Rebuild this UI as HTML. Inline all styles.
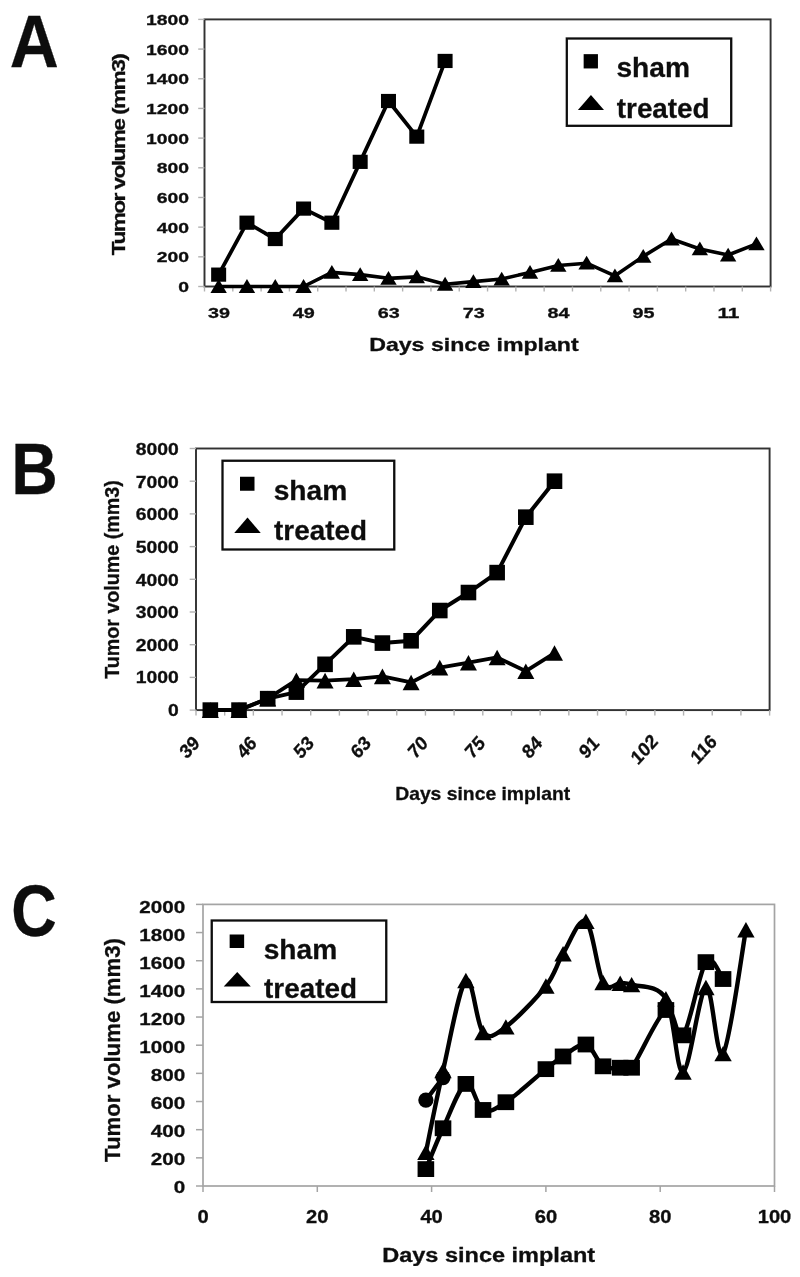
<!DOCTYPE html>
<html><head><meta charset="utf-8"><title>Figure</title>
<style>
html,body{margin:0;padding:0;background:#fff;}
body{width:800px;height:1277px;overflow:hidden;}
svg{display:block;}
text{font-family:'Liberation Sans', sans-serif;font-weight:700;fill:#111;stroke:#111;stroke-width:0.3px;}
</style></head><body>
<svg width="800" height="1277" viewBox="0 0 800 1277">
<rect x="0" y="0" width="800" height="1277" fill="#fff"/>
<g filter="url(#soft)">
<text x="9.80" y="66.50" font-size="74" text-anchor="start" textLength="49" lengthAdjust="spacingAndGlyphs">A</text>
<rect x="204.50" y="19.40" width="566.10" height="267.10" fill="none" stroke="#303030" stroke-width="1.9"/>
<line x1="198.20" y1="286.50" x2="204.50" y2="286.50" stroke="#b2b2b2" stroke-width="1.4"/>
<text x="189.00" y="292.10" font-size="14.1" text-anchor="end" textLength="10.75" lengthAdjust="spacingAndGlyphs">0</text>
<line x1="198.20" y1="256.82" x2="204.50" y2="256.82" stroke="#b2b2b2" stroke-width="1.4"/>
<text x="189.00" y="262.42" font-size="14.1" text-anchor="end" textLength="32.25" lengthAdjust="spacingAndGlyphs">200</text>
<line x1="198.20" y1="227.14" x2="204.50" y2="227.14" stroke="#b2b2b2" stroke-width="1.4"/>
<text x="189.00" y="232.74" font-size="14.1" text-anchor="end" textLength="32.25" lengthAdjust="spacingAndGlyphs">400</text>
<line x1="198.20" y1="197.47" x2="204.50" y2="197.47" stroke="#b2b2b2" stroke-width="1.4"/>
<text x="189.00" y="203.07" font-size="14.1" text-anchor="end" textLength="32.25" lengthAdjust="spacingAndGlyphs">600</text>
<line x1="198.20" y1="167.79" x2="204.50" y2="167.79" stroke="#b2b2b2" stroke-width="1.4"/>
<text x="189.00" y="173.39" font-size="14.1" text-anchor="end" textLength="32.25" lengthAdjust="spacingAndGlyphs">800</text>
<line x1="198.20" y1="138.11" x2="204.50" y2="138.11" stroke="#b2b2b2" stroke-width="1.4"/>
<text x="189.00" y="143.71" font-size="14.1" text-anchor="end" textLength="43.0" lengthAdjust="spacingAndGlyphs">1000</text>
<line x1="198.20" y1="108.43" x2="204.50" y2="108.43" stroke="#b2b2b2" stroke-width="1.4"/>
<text x="189.00" y="114.03" font-size="14.1" text-anchor="end" textLength="43.0" lengthAdjust="spacingAndGlyphs">1200</text>
<line x1="198.20" y1="78.76" x2="204.50" y2="78.76" stroke="#b2b2b2" stroke-width="1.4"/>
<text x="189.00" y="84.36" font-size="14.1" text-anchor="end" textLength="43.0" lengthAdjust="spacingAndGlyphs">1400</text>
<line x1="198.20" y1="49.08" x2="204.50" y2="49.08" stroke="#b2b2b2" stroke-width="1.4"/>
<text x="189.00" y="54.68" font-size="14.1" text-anchor="end" textLength="43.0" lengthAdjust="spacingAndGlyphs">1600</text>
<line x1="198.20" y1="19.40" x2="204.50" y2="19.40" stroke="#b2b2b2" stroke-width="1.4"/>
<text x="189.00" y="25.00" font-size="14.1" text-anchor="end" textLength="43.0" lengthAdjust="spacingAndGlyphs">1800</text>
<line x1="204.50" y1="286.50" x2="204.50" y2="291.50" stroke="#b2b2b2" stroke-width="1.4"/>
<line x1="232.81" y1="286.50" x2="232.81" y2="291.50" stroke="#b2b2b2" stroke-width="1.4"/>
<line x1="261.11" y1="286.50" x2="261.11" y2="291.50" stroke="#b2b2b2" stroke-width="1.4"/>
<line x1="289.41" y1="286.50" x2="289.41" y2="291.50" stroke="#b2b2b2" stroke-width="1.4"/>
<line x1="317.72" y1="286.50" x2="317.72" y2="291.50" stroke="#b2b2b2" stroke-width="1.4"/>
<line x1="346.02" y1="286.50" x2="346.02" y2="291.50" stroke="#b2b2b2" stroke-width="1.4"/>
<line x1="374.33" y1="286.50" x2="374.33" y2="291.50" stroke="#b2b2b2" stroke-width="1.4"/>
<line x1="402.63" y1="286.50" x2="402.63" y2="291.50" stroke="#b2b2b2" stroke-width="1.4"/>
<line x1="430.94" y1="286.50" x2="430.94" y2="291.50" stroke="#b2b2b2" stroke-width="1.4"/>
<line x1="459.25" y1="286.50" x2="459.25" y2="291.50" stroke="#b2b2b2" stroke-width="1.4"/>
<line x1="487.55" y1="286.50" x2="487.55" y2="291.50" stroke="#b2b2b2" stroke-width="1.4"/>
<line x1="515.86" y1="286.50" x2="515.86" y2="291.50" stroke="#b2b2b2" stroke-width="1.4"/>
<line x1="544.16" y1="286.50" x2="544.16" y2="291.50" stroke="#b2b2b2" stroke-width="1.4"/>
<line x1="572.46" y1="286.50" x2="572.46" y2="291.50" stroke="#b2b2b2" stroke-width="1.4"/>
<line x1="600.77" y1="286.50" x2="600.77" y2="291.50" stroke="#b2b2b2" stroke-width="1.4"/>
<line x1="629.08" y1="286.50" x2="629.08" y2="291.50" stroke="#b2b2b2" stroke-width="1.4"/>
<line x1="657.38" y1="286.50" x2="657.38" y2="291.50" stroke="#b2b2b2" stroke-width="1.4"/>
<line x1="685.68" y1="286.50" x2="685.68" y2="291.50" stroke="#b2b2b2" stroke-width="1.4"/>
<line x1="713.99" y1="286.50" x2="713.99" y2="291.50" stroke="#b2b2b2" stroke-width="1.4"/>
<line x1="742.29" y1="286.50" x2="742.29" y2="291.50" stroke="#b2b2b2" stroke-width="1.4"/>
<line x1="770.60" y1="286.50" x2="770.60" y2="291.50" stroke="#b2b2b2" stroke-width="1.4"/>
<text x="218.95" y="317.50" font-size="14.8" text-anchor="middle" textLength="22" lengthAdjust="spacingAndGlyphs">39</text>
<text x="303.87" y="317.50" font-size="14.8" text-anchor="middle" textLength="22" lengthAdjust="spacingAndGlyphs">49</text>
<text x="388.78" y="317.50" font-size="14.8" text-anchor="middle" textLength="22" lengthAdjust="spacingAndGlyphs">63</text>
<text x="473.70" y="317.50" font-size="14.8" text-anchor="middle" textLength="22" lengthAdjust="spacingAndGlyphs">73</text>
<text x="558.61" y="317.50" font-size="14.8" text-anchor="middle" textLength="22" lengthAdjust="spacingAndGlyphs">84</text>
<text x="643.53" y="317.50" font-size="14.8" text-anchor="middle" textLength="22" lengthAdjust="spacingAndGlyphs">95</text>
<text x="728.44" y="317.50" font-size="14.8" text-anchor="middle" textLength="22" lengthAdjust="spacingAndGlyphs">11</text>
<text x="369.20" y="350.60" font-size="18.4" text-anchor="start" textLength="209.5" lengthAdjust="spacingAndGlyphs">Days since implant</text>
<text transform="translate(124.80,255.20) rotate(-90) scale(1.25,1)" font-size="18.2" letter-spacing="-1.3" stroke="none">Tumor volume (mm3)</text>
<polyline points="218.65,286.50 246.96,286.50 275.26,286.50 303.57,286.50 331.87,272.40 360.18,274.63 388.48,278.34 416.79,276.85 445.09,284.27 473.40,281.60 501.70,279.08 530.01,272.40 558.31,265.43 586.62,263.20 614.92,275.82 643.23,256.38 671.53,239.02 699.84,248.96 728.14,255.04 756.45,243.91" fill="none" stroke="#000" stroke-width="3.6" stroke-linejoin="round" stroke-linecap="round"/>
<path d="M210.45,292.90 L226.85,292.90 L218.65,279.10 Z" fill="#000"/>
<path d="M238.76,292.90 L255.16,292.90 L246.96,279.10 Z" fill="#000"/>
<path d="M267.06,292.90 L283.46,292.90 L275.26,279.10 Z" fill="#000"/>
<path d="M295.37,292.90 L311.77,292.90 L303.57,279.10 Z" fill="#000"/>
<path d="M323.67,278.80 L340.07,278.80 L331.87,265.00 Z" fill="#000"/>
<path d="M351.98,281.03 L368.38,281.03 L360.18,267.23 Z" fill="#000"/>
<path d="M380.28,284.74 L396.68,284.74 L388.48,270.94 Z" fill="#000"/>
<path d="M408.59,283.25 L424.99,283.25 L416.79,269.45 Z" fill="#000"/>
<path d="M436.89,290.67 L453.29,290.67 L445.09,276.87 Z" fill="#000"/>
<path d="M465.20,288.00 L481.60,288.00 L473.40,274.20 Z" fill="#000"/>
<path d="M493.50,285.48 L509.90,285.48 L501.70,271.68 Z" fill="#000"/>
<path d="M521.81,278.80 L538.21,278.80 L530.01,265.00 Z" fill="#000"/>
<path d="M550.11,271.83 L566.51,271.83 L558.31,258.03 Z" fill="#000"/>
<path d="M578.42,269.60 L594.82,269.60 L586.62,255.80 Z" fill="#000"/>
<path d="M606.72,282.22 L623.12,282.22 L614.92,268.42 Z" fill="#000"/>
<path d="M635.03,262.78 L651.43,262.78 L643.23,248.98 Z" fill="#000"/>
<path d="M663.33,245.42 L679.73,245.42 L671.53,231.62 Z" fill="#000"/>
<path d="M691.64,255.36 L708.04,255.36 L699.84,241.56 Z" fill="#000"/>
<path d="M719.94,261.44 L736.34,261.44 L728.14,247.64 Z" fill="#000"/>
<path d="M748.25,250.31 L764.65,250.31 L756.45,236.51 Z" fill="#000"/>
<polyline points="218.65,274.63 246.96,222.69 275.26,239.02 303.57,208.60 331.87,222.69 360.18,161.85 388.48,101.01 416.79,136.63 445.09,60.95" fill="none" stroke="#000" stroke-width="3.8" stroke-linejoin="round" stroke-linecap="round"/>
<rect x="211.15" y="267.53" width="15" height="14.2" fill="#000"/>
<rect x="239.46" y="215.59" width="15" height="14.2" fill="#000"/>
<rect x="267.76" y="231.92" width="15" height="14.2" fill="#000"/>
<rect x="296.07" y="201.50" width="15" height="14.2" fill="#000"/>
<rect x="324.37" y="215.59" width="15" height="14.2" fill="#000"/>
<rect x="352.68" y="154.75" width="15" height="14.2" fill="#000"/>
<rect x="380.98" y="93.91" width="15" height="14.2" fill="#000"/>
<rect x="409.29" y="129.53" width="15" height="14.2" fill="#000"/>
<rect x="437.59" y="53.85" width="15" height="14.2" fill="#000"/>
<rect x="566.80" y="38.50" width="164.40" height="87.30" fill="#fff" stroke="#111" stroke-width="2.3"/>
<rect x="583.65" y="54.15" width="14.3" height="14.3" fill="#000"/>
<path d="M577.90,109.90 L604.00,109.90 L590.95,94.90 Z" fill="#000"/>
<text x="616.40" y="76.60" font-size="28" text-anchor="start" textLength="73.6" lengthAdjust="spacingAndGlyphs">sham</text>
<text x="616.80" y="118.00" font-size="28" text-anchor="start" textLength="92.8" lengthAdjust="spacingAndGlyphs">treated</text>
<text x="11.20" y="493.60" font-size="73" text-anchor="start" textLength="46.5" lengthAdjust="spacingAndGlyphs">B</text>
<rect x="196.00" y="448.50" width="573.60" height="261.60" fill="none" stroke="#303030" stroke-width="1.9"/>
<line x1="189.70" y1="710.10" x2="196.00" y2="710.10" stroke="#b2b2b2" stroke-width="1.4"/>
<text x="178.80" y="715.90" font-size="16.2" text-anchor="end" textLength="10.75" lengthAdjust="spacingAndGlyphs">0</text>
<line x1="189.70" y1="677.40" x2="196.00" y2="677.40" stroke="#b2b2b2" stroke-width="1.4"/>
<text x="178.80" y="683.30" font-size="16.2" text-anchor="end" textLength="43.0" lengthAdjust="spacingAndGlyphs">1000</text>
<line x1="189.70" y1="644.70" x2="196.00" y2="644.70" stroke="#b2b2b2" stroke-width="1.4"/>
<text x="178.80" y="650.70" font-size="16.2" text-anchor="end" textLength="43.0" lengthAdjust="spacingAndGlyphs">2000</text>
<line x1="189.70" y1="612.00" x2="196.00" y2="612.00" stroke="#b2b2b2" stroke-width="1.4"/>
<text x="178.80" y="618.10" font-size="16.2" text-anchor="end" textLength="43.0" lengthAdjust="spacingAndGlyphs">3000</text>
<line x1="189.70" y1="579.30" x2="196.00" y2="579.30" stroke="#b2b2b2" stroke-width="1.4"/>
<text x="178.80" y="585.50" font-size="16.2" text-anchor="end" textLength="43.0" lengthAdjust="spacingAndGlyphs">4000</text>
<line x1="189.70" y1="546.60" x2="196.00" y2="546.60" stroke="#b2b2b2" stroke-width="1.4"/>
<text x="178.80" y="552.90" font-size="16.2" text-anchor="end" textLength="43.0" lengthAdjust="spacingAndGlyphs">5000</text>
<line x1="189.70" y1="513.90" x2="196.00" y2="513.90" stroke="#b2b2b2" stroke-width="1.4"/>
<text x="178.80" y="520.30" font-size="16.2" text-anchor="end" textLength="43.0" lengthAdjust="spacingAndGlyphs">6000</text>
<line x1="189.70" y1="481.20" x2="196.00" y2="481.20" stroke="#b2b2b2" stroke-width="1.4"/>
<text x="178.80" y="487.70" font-size="16.2" text-anchor="end" textLength="43.0" lengthAdjust="spacingAndGlyphs">7000</text>
<line x1="189.70" y1="448.50" x2="196.00" y2="448.50" stroke="#b2b2b2" stroke-width="1.4"/>
<text x="178.80" y="455.10" font-size="16.2" text-anchor="end" textLength="43.0" lengthAdjust="spacingAndGlyphs">8000</text>
<line x1="196.00" y1="710.10" x2="196.00" y2="715.60" stroke="#b2b2b2" stroke-width="1.4"/>
<line x1="224.68" y1="710.10" x2="224.68" y2="715.60" stroke="#b2b2b2" stroke-width="1.4"/>
<line x1="253.36" y1="710.10" x2="253.36" y2="715.60" stroke="#b2b2b2" stroke-width="1.4"/>
<line x1="282.04" y1="710.10" x2="282.04" y2="715.60" stroke="#b2b2b2" stroke-width="1.4"/>
<line x1="310.72" y1="710.10" x2="310.72" y2="715.60" stroke="#b2b2b2" stroke-width="1.4"/>
<line x1="339.40" y1="710.10" x2="339.40" y2="715.60" stroke="#b2b2b2" stroke-width="1.4"/>
<line x1="368.08" y1="710.10" x2="368.08" y2="715.60" stroke="#b2b2b2" stroke-width="1.4"/>
<line x1="396.76" y1="710.10" x2="396.76" y2="715.60" stroke="#b2b2b2" stroke-width="1.4"/>
<line x1="425.44" y1="710.10" x2="425.44" y2="715.60" stroke="#b2b2b2" stroke-width="1.4"/>
<line x1="454.12" y1="710.10" x2="454.12" y2="715.60" stroke="#b2b2b2" stroke-width="1.4"/>
<line x1="482.80" y1="710.10" x2="482.80" y2="715.60" stroke="#b2b2b2" stroke-width="1.4"/>
<line x1="511.48" y1="710.10" x2="511.48" y2="715.60" stroke="#b2b2b2" stroke-width="1.4"/>
<line x1="540.16" y1="710.10" x2="540.16" y2="715.60" stroke="#b2b2b2" stroke-width="1.4"/>
<line x1="568.84" y1="710.10" x2="568.84" y2="715.60" stroke="#b2b2b2" stroke-width="1.4"/>
<line x1="597.52" y1="710.10" x2="597.52" y2="715.60" stroke="#b2b2b2" stroke-width="1.4"/>
<line x1="626.20" y1="710.10" x2="626.20" y2="715.60" stroke="#b2b2b2" stroke-width="1.4"/>
<line x1="654.88" y1="710.10" x2="654.88" y2="715.60" stroke="#b2b2b2" stroke-width="1.4"/>
<line x1="683.56" y1="710.10" x2="683.56" y2="715.60" stroke="#b2b2b2" stroke-width="1.4"/>
<line x1="712.24" y1="710.10" x2="712.24" y2="715.60" stroke="#b2b2b2" stroke-width="1.4"/>
<line x1="740.92" y1="710.10" x2="740.92" y2="715.60" stroke="#b2b2b2" stroke-width="1.4"/>
<line x1="769.60" y1="710.10" x2="769.60" y2="715.60" stroke="#b2b2b2" stroke-width="1.4"/>
<text transform="translate(189.30,746.90) scale(1,1.12) rotate(-45)" font-size="17.6" text-anchor="middle" dy="0.36em" stroke="#111" stroke-width="0.5">39</text>
<text transform="translate(246.37,746.90) scale(1,1.12) rotate(-45)" font-size="17.6" text-anchor="middle" dy="0.36em" stroke="#111" stroke-width="0.5">46</text>
<text transform="translate(303.44,746.90) scale(1,1.12) rotate(-45)" font-size="17.6" text-anchor="middle" dy="0.36em" stroke="#111" stroke-width="0.5">53</text>
<text transform="translate(360.51,746.90) scale(1,1.12) rotate(-45)" font-size="17.6" text-anchor="middle" dy="0.36em" stroke="#111" stroke-width="0.5">63</text>
<text transform="translate(417.58,746.90) scale(1,1.12) rotate(-45)" font-size="17.6" text-anchor="middle" dy="0.36em" stroke="#111" stroke-width="0.5">70</text>
<text transform="translate(474.65,746.90) scale(1,1.12) rotate(-45)" font-size="17.6" text-anchor="middle" dy="0.36em" stroke="#111" stroke-width="0.5">75</text>
<text transform="translate(531.72,746.90) scale(1,1.12) rotate(-45)" font-size="17.6" text-anchor="middle" dy="0.36em" stroke="#111" stroke-width="0.5">84</text>
<text transform="translate(588.79,746.90) scale(1,1.12) rotate(-45)" font-size="17.6" text-anchor="middle" dy="0.36em" stroke="#111" stroke-width="0.5">91</text>
<text transform="translate(644.00,749.00) scale(1,1.12) rotate(-45)" font-size="17.6" text-anchor="middle" dy="0.36em" stroke="#111" stroke-width="0.5">102</text>
<text transform="translate(703.40,749.00) scale(1,1.12) rotate(-45)" font-size="17.6" text-anchor="middle" dy="0.36em" stroke="#111" stroke-width="0.5">116</text>
<text x="395.20" y="799.50" font-size="17.9" text-anchor="start" textLength="175" lengthAdjust="spacingAndGlyphs">Days since implant</text>
<text transform="translate(118.80,678.80) rotate(-90)" font-size="19.4" textLength="198.5" lengthAdjust="spacingAndGlyphs">Tumor volume (mm3)</text>
<polyline points="210.34,710.10 239.02,710.10 267.70,698.65 296.38,680.18 325.06,680.67 353.74,679.20 382.42,676.42 411.10,682.47 439.78,667.59 468.46,662.69 497.14,657.45 525.82,671.19 554.50,653.04" fill="none" stroke="#000" stroke-width="3.8" stroke-linejoin="round" stroke-linecap="round"/>
<path d="M201.84,717.90 L218.84,717.90 L210.34,702.30 Z" fill="#000"/>
<path d="M230.52,717.90 L247.52,717.90 L239.02,702.30 Z" fill="#000"/>
<path d="M259.20,706.45 L276.20,706.45 L267.70,690.86 Z" fill="#000"/>
<path d="M287.88,687.98 L304.88,687.98 L296.38,672.38 Z" fill="#000"/>
<path d="M316.56,688.47 L333.56,688.47 L325.06,672.87 Z" fill="#000"/>
<path d="M345.24,687.00 L362.24,687.00 L353.74,671.40 Z" fill="#000"/>
<path d="M373.92,684.22 L390.92,684.22 L382.42,668.62 Z" fill="#000"/>
<path d="M402.60,690.27 L419.60,690.27 L411.10,674.67 Z" fill="#000"/>
<path d="M431.28,675.39 L448.28,675.39 L439.78,659.79 Z" fill="#000"/>
<path d="M459.96,670.49 L476.96,670.49 L468.46,654.89 Z" fill="#000"/>
<path d="M488.64,665.25 L505.64,665.25 L497.14,649.65 Z" fill="#000"/>
<path d="M517.32,678.99 L534.32,678.99 L525.82,663.39 Z" fill="#000"/>
<path d="M546.00,660.84 L563.00,660.84 L554.50,645.24 Z" fill="#000"/>
<polyline points="210.34,710.10 239.02,710.10 267.70,698.65 296.38,692.12 325.06,664.32 353.74,636.85 382.42,643.07 411.10,640.78 439.78,610.53 468.46,592.54 497.14,572.60 525.82,517.17 554.50,481.20" fill="none" stroke="#000" stroke-width="4.0" stroke-linejoin="round" stroke-linecap="round"/>
<rect x="202.54" y="702.30" width="15.6" height="15.6" fill="#000"/>
<rect x="231.22" y="702.30" width="15.6" height="15.6" fill="#000"/>
<rect x="259.90" y="690.86" width="15.6" height="15.6" fill="#000"/>
<rect x="288.58" y="684.32" width="15.6" height="15.6" fill="#000"/>
<rect x="317.26" y="656.52" width="15.6" height="15.6" fill="#000"/>
<rect x="345.94" y="629.05" width="15.6" height="15.6" fill="#000"/>
<rect x="374.62" y="635.27" width="15.6" height="15.6" fill="#000"/>
<rect x="403.30" y="632.98" width="15.6" height="15.6" fill="#000"/>
<rect x="431.98" y="602.73" width="15.6" height="15.6" fill="#000"/>
<rect x="460.66" y="584.74" width="15.6" height="15.6" fill="#000"/>
<rect x="489.34" y="564.80" width="15.6" height="15.6" fill="#000"/>
<rect x="518.02" y="509.37" width="15.6" height="15.6" fill="#000"/>
<rect x="546.70" y="473.40" width="15.6" height="15.6" fill="#000"/>
<rect x="222.50" y="460.75" width="171.75" height="88.75" fill="#fff" stroke="#111" stroke-width="2.3"/>
<rect x="240.00" y="476.75" width="14.5" height="14" fill="#000"/>
<path d="M234.25,533.00 L260.75,533.00 L247.50,517.50 Z" fill="#000"/>
<text x="273.70" y="499.50" font-size="28.3" text-anchor="start" textLength="73.6" lengthAdjust="spacingAndGlyphs">sham</text>
<text x="274.10" y="540.00" font-size="28.3" text-anchor="start" textLength="92.8" lengthAdjust="spacingAndGlyphs">treated</text>
<text x="11.20" y="935.80" font-size="73" text-anchor="start" textLength="45.5" lengthAdjust="spacingAndGlyphs">C</text>
<rect x="203.00" y="904.40" width="571.50" height="281.60" fill="none" stroke="#a4a4a4" stroke-width="1.7"/>
<line x1="196.00" y1="1186.00" x2="203.00" y2="1186.00" stroke="#a4a4a4" stroke-width="1.5"/>
<text x="185.20" y="1192.90" font-size="16.8" text-anchor="end" textLength="11.5" lengthAdjust="spacingAndGlyphs">0</text>
<line x1="196.00" y1="1157.84" x2="203.00" y2="1157.84" stroke="#a4a4a4" stroke-width="1.5"/>
<text x="185.20" y="1164.86" font-size="16.8" text-anchor="end" textLength="34.5" lengthAdjust="spacingAndGlyphs">200</text>
<line x1="196.00" y1="1129.68" x2="203.00" y2="1129.68" stroke="#a4a4a4" stroke-width="1.5"/>
<text x="185.20" y="1136.82" font-size="16.8" text-anchor="end" textLength="34.5" lengthAdjust="spacingAndGlyphs">400</text>
<line x1="196.00" y1="1101.52" x2="203.00" y2="1101.52" stroke="#a4a4a4" stroke-width="1.5"/>
<text x="185.20" y="1108.78" font-size="16.8" text-anchor="end" textLength="34.5" lengthAdjust="spacingAndGlyphs">600</text>
<line x1="196.00" y1="1073.36" x2="203.00" y2="1073.36" stroke="#a4a4a4" stroke-width="1.5"/>
<text x="185.20" y="1080.74" font-size="16.8" text-anchor="end" textLength="34.5" lengthAdjust="spacingAndGlyphs">800</text>
<line x1="196.00" y1="1045.20" x2="203.00" y2="1045.20" stroke="#a4a4a4" stroke-width="1.5"/>
<text x="185.20" y="1052.70" font-size="16.8" text-anchor="end" textLength="46.0" lengthAdjust="spacingAndGlyphs">1000</text>
<line x1="196.00" y1="1017.04" x2="203.00" y2="1017.04" stroke="#a4a4a4" stroke-width="1.5"/>
<text x="185.20" y="1024.66" font-size="16.8" text-anchor="end" textLength="46.0" lengthAdjust="spacingAndGlyphs">1200</text>
<line x1="196.00" y1="988.88" x2="203.00" y2="988.88" stroke="#a4a4a4" stroke-width="1.5"/>
<text x="185.20" y="996.62" font-size="16.8" text-anchor="end" textLength="46.0" lengthAdjust="spacingAndGlyphs">1400</text>
<line x1="196.00" y1="960.72" x2="203.00" y2="960.72" stroke="#a4a4a4" stroke-width="1.5"/>
<text x="185.20" y="968.58" font-size="16.8" text-anchor="end" textLength="46.0" lengthAdjust="spacingAndGlyphs">1600</text>
<line x1="196.00" y1="932.56" x2="203.00" y2="932.56" stroke="#a4a4a4" stroke-width="1.5"/>
<text x="185.20" y="940.54" font-size="16.8" text-anchor="end" textLength="46.0" lengthAdjust="spacingAndGlyphs">1800</text>
<line x1="196.00" y1="904.40" x2="203.00" y2="904.40" stroke="#a4a4a4" stroke-width="1.5"/>
<text x="185.20" y="912.50" font-size="16.8" text-anchor="end" textLength="46.0" lengthAdjust="spacingAndGlyphs">2000</text>
<line x1="203.00" y1="1186.00" x2="203.00" y2="1192.00" stroke="#a4a4a4" stroke-width="1.5"/>
<text x="203.00" y="1223.00" font-size="17.8" text-anchor="middle" textLength="11.2" lengthAdjust="spacingAndGlyphs">0</text>
<line x1="317.30" y1="1186.00" x2="317.30" y2="1192.00" stroke="#a4a4a4" stroke-width="1.5"/>
<text x="317.30" y="1223.00" font-size="17.8" text-anchor="middle" textLength="22.4" lengthAdjust="spacingAndGlyphs">20</text>
<line x1="431.60" y1="1186.00" x2="431.60" y2="1192.00" stroke="#a4a4a4" stroke-width="1.5"/>
<text x="431.60" y="1223.00" font-size="17.8" text-anchor="middle" textLength="22.4" lengthAdjust="spacingAndGlyphs">40</text>
<line x1="545.90" y1="1186.00" x2="545.90" y2="1192.00" stroke="#a4a4a4" stroke-width="1.5"/>
<text x="545.90" y="1223.00" font-size="17.8" text-anchor="middle" textLength="22.4" lengthAdjust="spacingAndGlyphs">60</text>
<line x1="660.20" y1="1186.00" x2="660.20" y2="1192.00" stroke="#a4a4a4" stroke-width="1.5"/>
<text x="660.20" y="1223.00" font-size="17.8" text-anchor="middle" textLength="22.4" lengthAdjust="spacingAndGlyphs">80</text>
<line x1="774.50" y1="1186.00" x2="774.50" y2="1192.00" stroke="#a4a4a4" stroke-width="1.5"/>
<text x="774.50" y="1223.00" font-size="17.8" text-anchor="middle" textLength="33.599999999999994" lengthAdjust="spacingAndGlyphs">100</text>
<text x="382.20" y="1261.60" font-size="19.6" text-anchor="start" textLength="213" lengthAdjust="spacingAndGlyphs">Days since implant</text>
<text transform="translate(120.00,1162.00) rotate(-90)" font-size="21.8" textLength="224" lengthAdjust="spacingAndGlyphs">Tumor volume (mm3)</text>
<polyline points="425.88,1100.11 443.03,1077.58" fill="none" stroke="#000" stroke-width="4.2" stroke-linejoin="round" stroke-linecap="round"/>
<circle cx="425.88" cy="1100.11" r="7.6" fill="#000"/>
<circle cx="443.03" cy="1077.58" r="7.6" fill="#000"/>
<path d="M425.88,1152.21 C428.74,1138.60 436.36,1099.17 443.03,1070.54 C449.70,1041.91 459.22,986.77 465.89,980.43 C472.56,974.10 476.37,1024.78 483.03,1032.53 C489.70,1040.27 495.42,1034.64 505.89,1026.90 C516.37,1019.15 536.38,998.27 545.90,986.06 C555.42,973.86 556.38,964.47 563.05,953.68 C569.71,942.89 579.24,916.49 585.90,921.30 C592.57,926.11 597.33,972.22 603.05,982.54 C608.76,992.87 615.43,982.90 620.19,983.25 C624.96,983.60 624.00,982.07 631.62,984.66 C639.25,987.24 657.34,984.19 665.91,998.74 C674.49,1013.29 676.39,1073.83 683.06,1071.95 C689.73,1070.07 699.25,990.52 705.92,987.47 C712.59,984.42 716.40,1063.27 723.06,1053.65 C729.73,1044.03 742.12,950.39 745.92,929.74" fill="none" stroke="#000" stroke-width="4.4" stroke-linejoin="round" stroke-linecap="round"/>
<path d="M417.19,1159.91 L434.58,1159.91 L425.88,1144.51 Z" fill="#000"/>
<path d="M434.33,1078.24 L451.73,1078.24 L443.03,1062.84 Z" fill="#000"/>
<path d="M457.19,988.13 L474.59,988.13 L465.89,972.73 Z" fill="#000"/>
<path d="M474.33,1040.23 L491.73,1040.23 L483.03,1024.83 Z" fill="#000"/>
<path d="M497.19,1034.60 L514.60,1034.60 L505.89,1019.20 Z" fill="#000"/>
<path d="M537.20,993.76 L554.60,993.76 L545.90,978.36 Z" fill="#000"/>
<path d="M554.35,961.38 L571.75,961.38 L563.05,945.98 Z" fill="#000"/>
<path d="M577.20,929.00 L594.61,929.00 L585.90,913.60 Z" fill="#000"/>
<path d="M594.35,990.24 L611.75,990.24 L603.05,974.84 Z" fill="#000"/>
<path d="M611.49,990.95 L628.89,990.95 L620.19,975.55 Z" fill="#000"/>
<path d="M622.92,992.36 L640.33,992.36 L631.62,976.96 Z" fill="#000"/>
<path d="M657.21,1006.44 L674.62,1006.44 L665.91,991.04 Z" fill="#000"/>
<path d="M674.36,1079.65 L691.76,1079.65 L683.06,1064.25 Z" fill="#000"/>
<path d="M697.22,995.17 L714.62,995.17 L705.92,979.77 Z" fill="#000"/>
<path d="M714.36,1061.35 L731.76,1061.35 L723.06,1045.95 Z" fill="#000"/>
<path d="M737.22,937.44 L754.62,937.44 L745.92,922.04 Z" fill="#000"/>
<path d="M425.88,1169.10 C428.74,1162.30 436.36,1142.47 443.03,1128.27 C449.70,1114.07 459.22,1086.97 465.89,1083.92 C472.56,1080.87 476.37,1106.92 483.03,1109.97 C489.70,1113.02 495.42,1109.03 505.89,1102.22 C516.37,1095.42 536.38,1076.76 545.90,1069.14 C555.42,1061.51 556.38,1060.57 563.05,1056.46 C569.71,1052.36 579.24,1042.85 585.90,1044.50 C592.57,1046.14 597.33,1062.45 603.05,1066.32 C608.76,1070.19 615.43,1067.49 620.19,1067.73 C624.96,1067.96 624.00,1077.35 631.62,1067.73 C639.25,1058.11 657.34,1015.40 665.91,1010.00 C674.49,1004.60 676.39,1043.32 683.06,1035.34 C689.73,1027.37 699.25,971.51 705.92,962.13 C712.59,952.74 720.21,976.21 723.06,979.02" fill="none" stroke="#000" stroke-width="4.4" stroke-linejoin="round" stroke-linecap="round"/>
<rect x="417.58" y="1161.20" width="16.6" height="15.8" fill="#000"/>
<rect x="434.73" y="1120.37" width="16.6" height="15.8" fill="#000"/>
<rect x="457.59" y="1076.02" width="16.6" height="15.8" fill="#000"/>
<rect x="474.73" y="1102.07" width="16.6" height="15.8" fill="#000"/>
<rect x="497.59" y="1094.32" width="16.6" height="15.8" fill="#000"/>
<rect x="537.60" y="1061.24" width="16.6" height="15.8" fill="#000"/>
<rect x="554.75" y="1048.56" width="16.6" height="15.8" fill="#000"/>
<rect x="577.61" y="1036.60" width="16.6" height="15.8" fill="#000"/>
<rect x="594.75" y="1058.42" width="16.6" height="15.8" fill="#000"/>
<rect x="611.89" y="1059.83" width="16.6" height="15.8" fill="#000"/>
<rect x="623.33" y="1059.83" width="16.6" height="15.8" fill="#000"/>
<rect x="657.62" y="1002.10" width="16.6" height="15.8" fill="#000"/>
<rect x="674.76" y="1027.44" width="16.6" height="15.8" fill="#000"/>
<rect x="697.62" y="954.23" width="16.6" height="15.8" fill="#000"/>
<rect x="714.76" y="971.12" width="16.6" height="15.8" fill="#000"/>
<rect x="211.75" y="920.50" width="174.50" height="81.50" fill="#fff" stroke="#111" stroke-width="2.3"/>
<rect x="229.65" y="934.50" width="14.5" height="13.5" fill="#000"/>
<path d="M223.75,986.50 L250.75,986.50 L237.25,972.00 Z" fill="#000"/>
<text x="263.70" y="958.75" font-size="27.6" text-anchor="start" textLength="73.6" lengthAdjust="spacingAndGlyphs">sham</text>
<text x="264.10" y="997.50" font-size="27.6" text-anchor="start" textLength="92.8" lengthAdjust="spacingAndGlyphs">treated</text>
</g>
<defs><filter id="soft" x="0" y="0" width="100%" height="100%"><feGaussianBlur stdDeviation="0.7"/></filter></defs>
</svg>
</body></html>
